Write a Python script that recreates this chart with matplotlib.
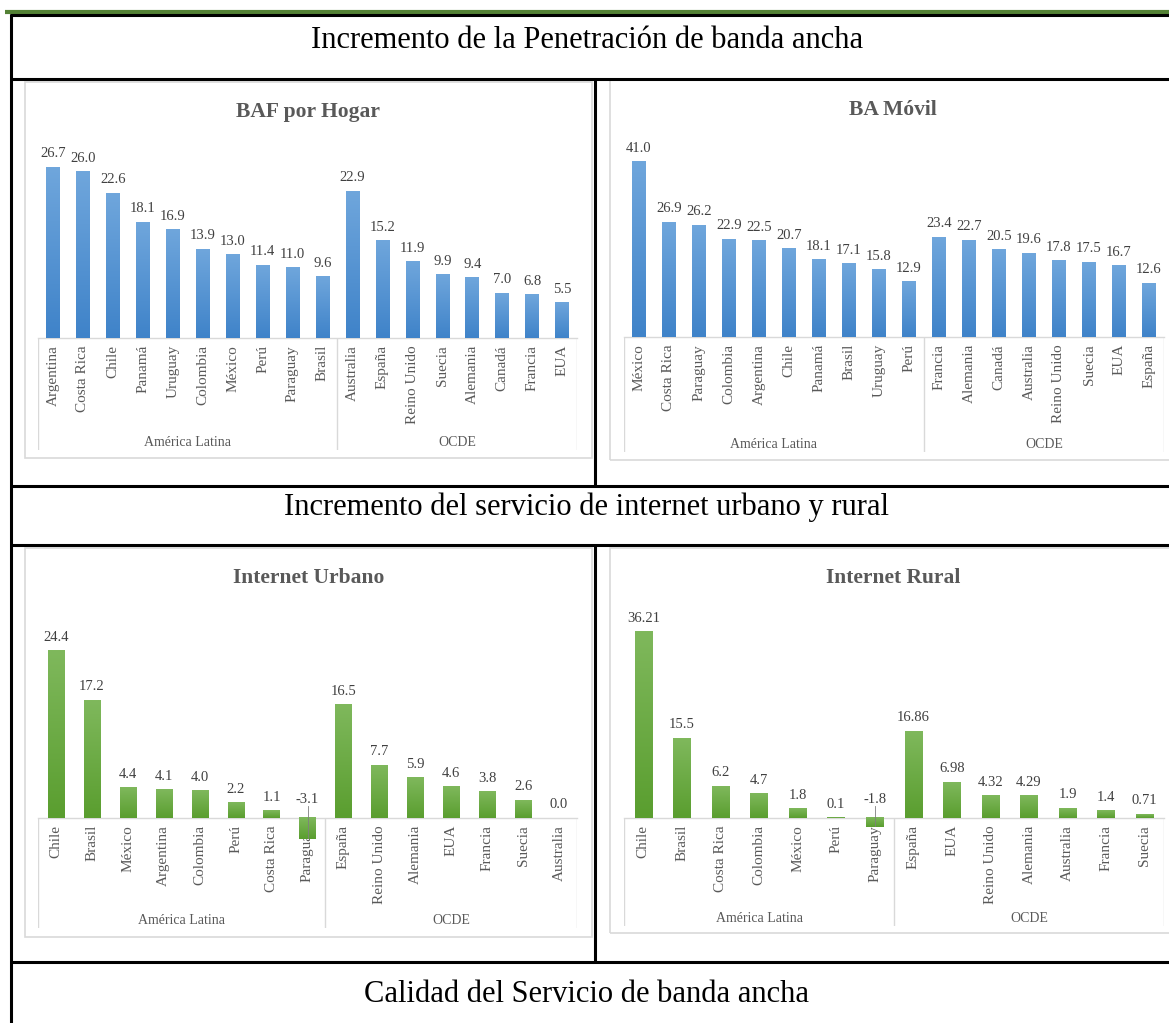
import matplotlib.pyplot as plt
import numpy as np
from matplotlib.colors import LinearSegmentedColormap
from matplotlib.lines import Line2D
from matplotlib.patches import Rectangle

W, H = 1169, 1023
SERIF = "Liberation Serif"
plt.rcParams["font.family"] = [SERIF, "DejaVu Serif"]

groups = ["América Latina", "OCDE"]

# BAF por Hogar
baf_names = ["Argentina", "Costa Rica", "Chile", "Panamá", "Uruguay", "Colombia",
             "México", "Perú", "Paraguay", "Brasil",
             "Australia", "España", "Reino Unido", "Suecia", "Alemania", "Canadá",
             "Francia", "EUA"]
baf_values = [26.7, 26.0, 22.6, 18.1, 16.9, 13.9, 13.0, 11.4, 11.0, 9.6,
              22.9, 15.2, 11.9, 9.9, 9.4, 7.0, 6.8, 5.5]
baf_latam = 10

# BA Móvil
movil_names = ["México", "Costa Rica", "Paraguay", "Colombia", "Argentina", "Chile",
               "Panamá", "Brasil", "Uruguay", "Perú",
               "Francia", "Alemania", "Canadá", "Australia", "Reino Unido", "Suecia",
               "EUA", "España"]
movil_values = [41.0, 26.9, 26.2, 22.9, 22.5, 20.7, 18.1, 17.1, 15.8, 12.9,
                23.4, 22.7, 20.5, 19.6, 17.8, 17.5, 16.7, 12.6]
movil_latam = 10

# Internet Urbano
urb_names = ["Chile", "Brasil", "México", "Argentina", "Colombia", "Perú",
             "Costa Rica", "Paraguay",
             "España", "Reino Unido", "Alemania", "EUA", "Francia", "Suecia",
             "Australia"]
urb_values = [24.4, 17.2, 4.4, 4.1, 4.0, 2.2, 1.1, -3.1,
              16.5, 7.7, 5.9, 4.6, 3.8, 2.6, 0.0]
urb_latam = 8

# Internet Rural
rur_names = ["Chile", "Brasil", "Costa Rica", "Colombia", "México", "Perú", "Paraguay",
             "España", "EUA", "Reino Unido", "Alemania", "Australia", "Francia",
             "Suecia"]
rur_values = [36.21, 15.5, 6.2, 4.7, 1.8, 0.1, -1.8,
              16.86, 6.98, 4.32, 4.29, 1.9, 1.4, 0.71]
rur_latam = 7

headers = ["Incremento de la Penetración de banda ancha",
           "Incremento del servicio de internet urbano y rural",
           "Calidad del Servicio de banda ancha"]

blue = LinearSegmentedColormap.from_list("b", ["#3f83c9", "#6fa6dc"])
green = LinearSegmentedColormap.from_list("g", ["#5a9e2f", "#7fb85c"])

TXT = "#595959"
GRID = "#d9d9d9"


def px_rect(x0, y0, x1, y1):
    return [x0 / W, 1 - y1 / H, (x1 - x0) / W, (y1 - y0) / H]


def hline(fig, x0, x1, y, color="black", lw=2.2):
    fig.add_artist(Line2D([x0 / W, x1 / W], [1 - y / H] * 2, color=color, lw=lw,
                          transform=fig.transFigure, solid_capstyle="butt"))


def vline(fig, x, y0, y1, color="black", lw=2.2):
    fig.add_artist(Line2D([x / W] * 2, [1 - y0 / H, 1 - y1 / H], color=color, lw=lw,
                          transform=fig.transFigure, solid_capstyle="butt"))


def draw_chart(fig, names, values, n_latam, title, panel, axis, cmap):
    x0, x1, base, bot, ppu = axis
    top = base - ppu * max(values) - 45
    n = len(values)

    # light frame of the embedded excel chart
    px0, py0, px1, py1 = panel
    fig.add_artist(Rectangle((px0 / W, 1 - py1 / H), (px1 - px0) / W, (py1 - py0) / H,
                             transform=fig.transFigure, fill=False,
                             edgecolor=GRID, lw=1.2))
    title_x = (px0 + px1) / 2 if px1 < W else 893
    fig.text(title_x / W, 1 - (py0 + 30) / H, title, ha="center", va="center",
             fontsize=15.5, fontweight="bold", color=TXT)

    ax = fig.add_axes(px_rect(x0, top, x1, bot))
    ax.patch.set_alpha(0)
    width = 0.45
    grad = np.linspace(1, 0, 64).reshape(-1, 1)
    for i, v in enumerate(values):
        lo, hi = min(0, v), max(0, v)
        if hi > lo:
            ax.imshow(grad, extent=[i - width / 2, i + width / 2, lo, hi], cmap=cmap,
                      aspect="auto", zorder=3, interpolation="bilinear")
        if v >= 0:
            ax.annotate(str(v), (i, v), xytext=(0, 5), textcoords="offset points",
                        ha="center", va="bottom", fontsize=10.5, color="#404040")
        else:
            lab = 12 / ppu
            ax.annotate(str(v), (i, lab), ha="center", va="bottom", fontsize=10.5,
                        color="#404040")
            ax.plot([i, i], [lab, v + 0.2], color="#7f7f7f", lw=0.6, zorder=4)

    ax.set_xlim(-0.5, n - 0.5)
    ax.set_ylim(-(bot - base) / ppu, (base - top) / ppu)
    for s in ["top", "left", "right"]:
        ax.spines[s].set_visible(False)
    ax.spines["bottom"].set_position(("data", 0))
    ax.spines["bottom"].set_color(GRID)
    ax.spines["bottom"].set_linewidth(1.0)
    ax.set_yticks([])
    ax.set_xticks(range(n), names, rotation=90, fontsize=11, color=TXT)
    ax.tick_params(axis="x", length=0, pad=5)
    ax.vlines([-0.5, n_latam - 0.5, n - 0.5], ax.get_ylim()[0], 0, colors=GRID, lw=1.0)

    yfrac = 8 / (bot - top)
    tr = ax.get_xaxis_transform()
    ax.text((n_latam - 1) / 2, yfrac, groups[0], transform=tr, ha="center",
            va="center", fontsize=10, color=TXT)
    ax.text((n_latam + n - 1) / 2, yfrac, groups[1], transform=tr, ha="center",
            va="center", fontsize=10, color=TXT)


fig = plt.figure(figsize=(W / 100, H / 100), dpi=100)

# table frame
hline(fig, 5, W, 12, color="#538135", lw=3)
hline(fig, 10, W, 15)
vline(fig, 11, 14, H)
hline(fig, 10, W, 79)
hline(fig, 10, W, 486)
hline(fig, 10, W, 545)
hline(fig, 10, W, 962)
vline(fig, 595, 79, 486)
vline(fig, 595, 545, 962)

fig.text(587 / W, 1 - 40 / H, headers[0], ha="center", va="center", fontsize=22)
fig.text(587 / W, 1 - 507 / H, headers[1], ha="center", va="center", fontsize=22)
fig.text(587 / W, 1 - 994 / H, headers[2], ha="center", va="center", fontsize=22)

draw_chart(fig, baf_names, baf_values, baf_latam, "BAF por Hogar",
           (25, 82, 592, 458), (38, 577, 338, 450, 6.4), blue)
draw_chart(fig, movil_names, movil_values, movil_latam, "BA Móvil",
           (610, 80, 1180, 460), (624, 1164, 337, 452, 4.27), blue)
draw_chart(fig, urb_names, urb_values, urb_latam, "Internet Urbano",
           (25, 548, 592, 937), (38, 577, 818, 928, 6.85), green)
draw_chart(fig, rur_names, rur_values, rur_latam, "Internet Rural",
           (610, 548, 1180, 933), (624, 1164, 818, 926, 5.14), green)

fig.savefig("out.png", dpi=100)
